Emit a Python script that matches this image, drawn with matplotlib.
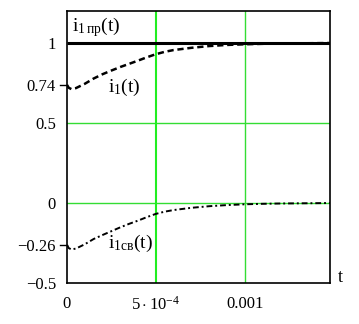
import matplotlib
matplotlib.use("Agg")
import matplotlib.pyplot as plt

plt.rcParams["font.family"] = ["Liberation Serif", "DejaVu Serif"]
plt.rcParams["mathtext.fontset"] = "custom"
plt.rcParams["mathtext.rm"] = "Liberation Serif"
plt.rcParams["mathtext.it"] = "Liberation Serif"

# --- data ---
t = [0, 1e-5, 2.5e-5, 5e-5, 1e-4, 1.5e-4, 2e-4, 2.5e-4, 3e-4, 3.5e-4, 4e-4,
     4.5e-4, 5e-4, 5.5e-4, 6e-4, 7e-4, 8e-4, 9e-4, 1e-3, 1.1e-3, 1.2e-3,
     1.3e-3, 1.4e-3, 1.48e-3]
i1 = [0.738, 0.72, 0.712, 0.718, 0.745, 0.778, 0.805, 0.828, 0.85, 0.87, 0.89,
      0.911, 0.93, 0.945, 0.956, 0.97, 0.981, 0.988, 0.992, 0.995, 0.997,
      0.998, 0.999, 1.0]
i1_sv = [-0.262, -0.282, -0.29, -0.285, -0.258, -0.225, -0.2, -0.176, -0.152,
         -0.13, -0.11, -0.088, -0.068, -0.054, -0.044, -0.03, -0.02, -0.013,
         -0.008, -0.005, -0.003, -0.002, -0.001, 0.0]
t_pr = [0, 1.48e-3]
i1_pr = [1.0, 1.0]

y_ticks = [1, 0.74, 0.5, 0, -0.26, -0.5]
y_tick_labels = ["1", "0.74", "0.5", "0", "\u22120.26", "\u22120.5"]
x_ticks = [0, 5e-4, 1e-3]
x_tick_labels = ["0", r"$5\cdot10^{-4}$", "0.001"]

fig = plt.figure(figsize=(3.59, 3.24), dpi=100)
ax = fig.add_axes([0.1866, 0.1265, 0.7324, 0.8395])

green = "#33dd33"
ax.axhline(0.5, color=green, lw=1)
ax.axhline(0, color=green, lw=1)
ax.axvline(5e-4, color="#22ee22", lw=1.5)
ax.axvline(1e-3, color=green, lw=1)

ax.plot(t_pr, i1_pr, color="black", lw=2.2, solid_capstyle="butt")
ax.plot(t, i1, color="black", lw=1.8, dashes=(2.5, 1.5))
ax.plot(t, i1_sv, color="black", lw=1.4, dashes=(3, 1.5, 1, 1.5))

ax.set_xlim(0, 1.48e-3)
ax.set_ylim(-0.5, 1.2)

ax.set_yticks(y_ticks)
ax.set_yticklabels(y_tick_labels, fontsize=12)
ax.set_xticks(x_ticks)
ax.set_xticklabels(x_tick_labels, fontsize=12)
ax.tick_params(axis="x", length=0, pad=9)
ax.tick_params(axis="y", length=0, pad=8)
for val in (0.74, -0.26):
    ax.plot([-0.00004, 0], [val, val], color="black", lw=1, clip_on=False)

for s in ax.spines.values():
    s.set_linewidth(1.2)

ax.text(3e-5, 1.1, r"$\mathregular{i_{1\,пр}(t)}$", fontsize=14, va="center")
ax.text(2.3e-4, 0.72, r"$\mathregular{i_{1}(t)}$", fontsize=14, va="center")
ax.text(2.3e-4, -0.25, r"$\mathregular{i_{1св}(t)}$", fontsize=14, va="center")
ax.text(1.0 + 0.03, 0.02, "t", transform=ax.transAxes, fontsize=13,
        va="center", ha="left")

fig.savefig("out.png", dpi=100)
